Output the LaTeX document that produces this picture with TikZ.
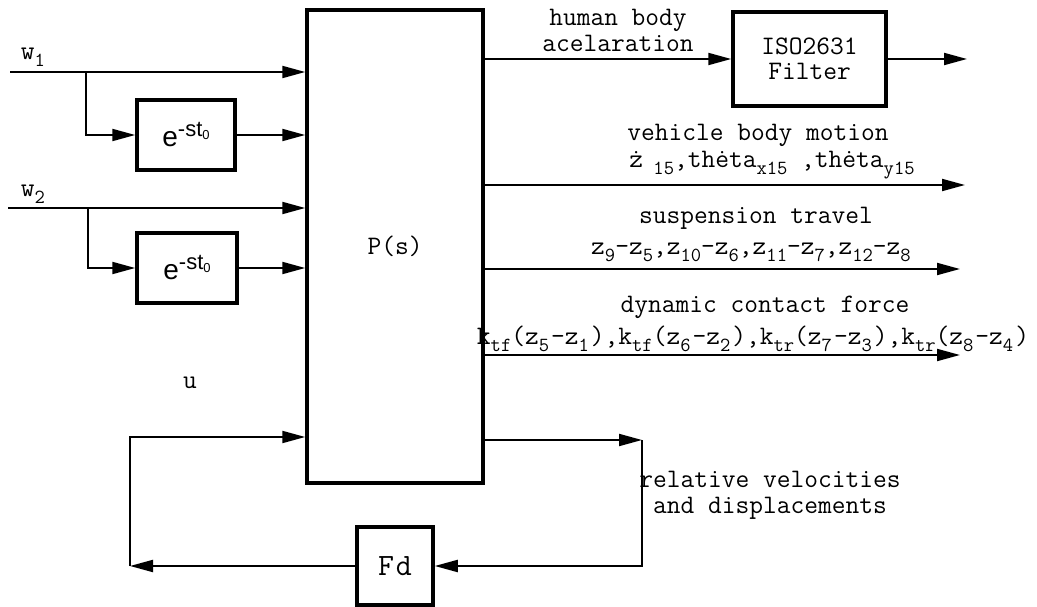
\documentclass[tikz,border=0pt]{standalone}
\usepackage{fontspec}
\newfontfamily\hv{Liberation Sans}
\usetikzlibrary{arrows.meta}
\newcommand\lbl{\fontsize{26.7}{25.5}\selectfont\ttfamily}
\newcommand\sbs[1]{\raisebox{-7pt}{\fontsize{20}{20}\selectfont #1}}
\newcommand\sbk[1]{\sbs{#1}\kern2pt}
\newcommand\delaytxt{{\hv\fontsize{28}{28}\selectfont e\raisebox{10pt}{\fontsize{22}{22}\selectfont -st\raisebox{-3pt}{\fontsize{13}{13}\selectfont 0}}}}
\begin{document}
\begin{tikzpicture}[x=1pt,y=-1pt,
  blk/.style={draw, line width=3.5pt, inner sep=0pt},
  conn/.style={line width=2pt},
  arr/.style={conn, -{Triangle[length=23pt,width=12pt]}},
  txt/.style={font=\lbl, inner sep=0pt, align=center}]
\useasboundingbox (0,0) rectangle (1037,607);
% blocks
\node[blk, txt, minimum width=176pt, minimum height=473pt] (P) at (395,246.5) {P(s)};
\node[blk, minimum width=98pt, minimum height=70pt] (D1) at (186,135) {\delaytxt};
\node[blk, minimum width=100pt, minimum height=70pt] (D2) at (187,268) {\delaytxt};
\node[blk, txt, minimum width=153pt, minimum height=94pt] (F) at (809.5,59) {ISO2631\\Filter};
\node[blk, txt, minimum width=76pt, minimum height=78pt, font=\fontsize{31}{31}\selectfont\ttfamily] (Fd) at (395,566) {F\kern2pt d};
% free ends
\coordinate (w1) at (10,72);
\coordinate (b1) at (86,72);
\coordinate (w2) at (8,208);
\coordinate (b2) at (88,208);
\coordinate (o1) at (967,59);
\coordinate (o2) at (965,185);
\coordinate (o3) at (960,269);
\coordinate (o4) at (960,355);
\coordinate (fr) at (642,440);
\coordinate (ul) at (130,437);
% inputs
\draw[arr] (w1) -- (w1 -| P.west);
\draw[arr] (b1) |- (D1.west);
\draw[arr] (D1.east) -- (D1.east -| P.west);
\draw[arr] (w2) -- (w2 -| P.west);
\draw[arr] (b2) |- (D2.west);
\draw[arr] (D2.east) -- (D2.east -| P.west);
% outputs
\draw[arr] (P.east |- F.west) -- (F.west);
\draw[arr] (F.east) -- (o1);
\draw[arr] (P.east |- o2) -- (o2);
\draw[arr] (P.east |- o3) -- (o3);
\draw[arr] (P.east |- o4) -- (o4);
% feedback
\draw[arr] (P.east |- fr) -- (fr);
\draw[arr] (fr) |- (Fd.east);
\draw[arr] (Fd.west) -- (Fd.west -| ul);
\draw[arr] (Fd.west -| ul) -- (ul) -- (ul -| P.west);
% labels
\node[txt] (w1l) at (33,57) {w\sbs{1}};
\node[txt] (w2l) at (33,194) {w\sbs{2}};
\node[txt] (ulab) at (190,383) {u};
\node[txt] (hb) at (618,30.5) {human body\\acelaration};
\node[txt] (vb) at (758,135) {vehicle body motion};
\node[txt] (vf) at (772,165) {ż\sbs{ 15},thėta\sbs{x15} ,thėta\sbs{y15}};
\node[txt] (st) at (756,218) {suspension travel};
\node[txt] (sf) at (751,252) {z\sbs{9}-z\sbs{5},z\sbs{10}-z\sbs{6},z\sbs{11}-z\sbs{7},z\sbs{12}-z\sbs{8}};
\node[txt] (dc) at (765,307) {dynamic contact force};
\node[txt] (df) at (753,339) {k\sbs{tf}(z\sbk{5}-z\sbk{1}),k\sbs{tf}(z\sbk{6}-z\sbk{2}),k\sbs{tr}(z\sbk{7}-z\sbk{3}),k\sbs{tr}(z\sbk{8}-z\sbk{4})};
\node[txt] (rv) at (770,495.5) {relative velocities\\and displacements};
\end{tikzpicture}
\end{document}
